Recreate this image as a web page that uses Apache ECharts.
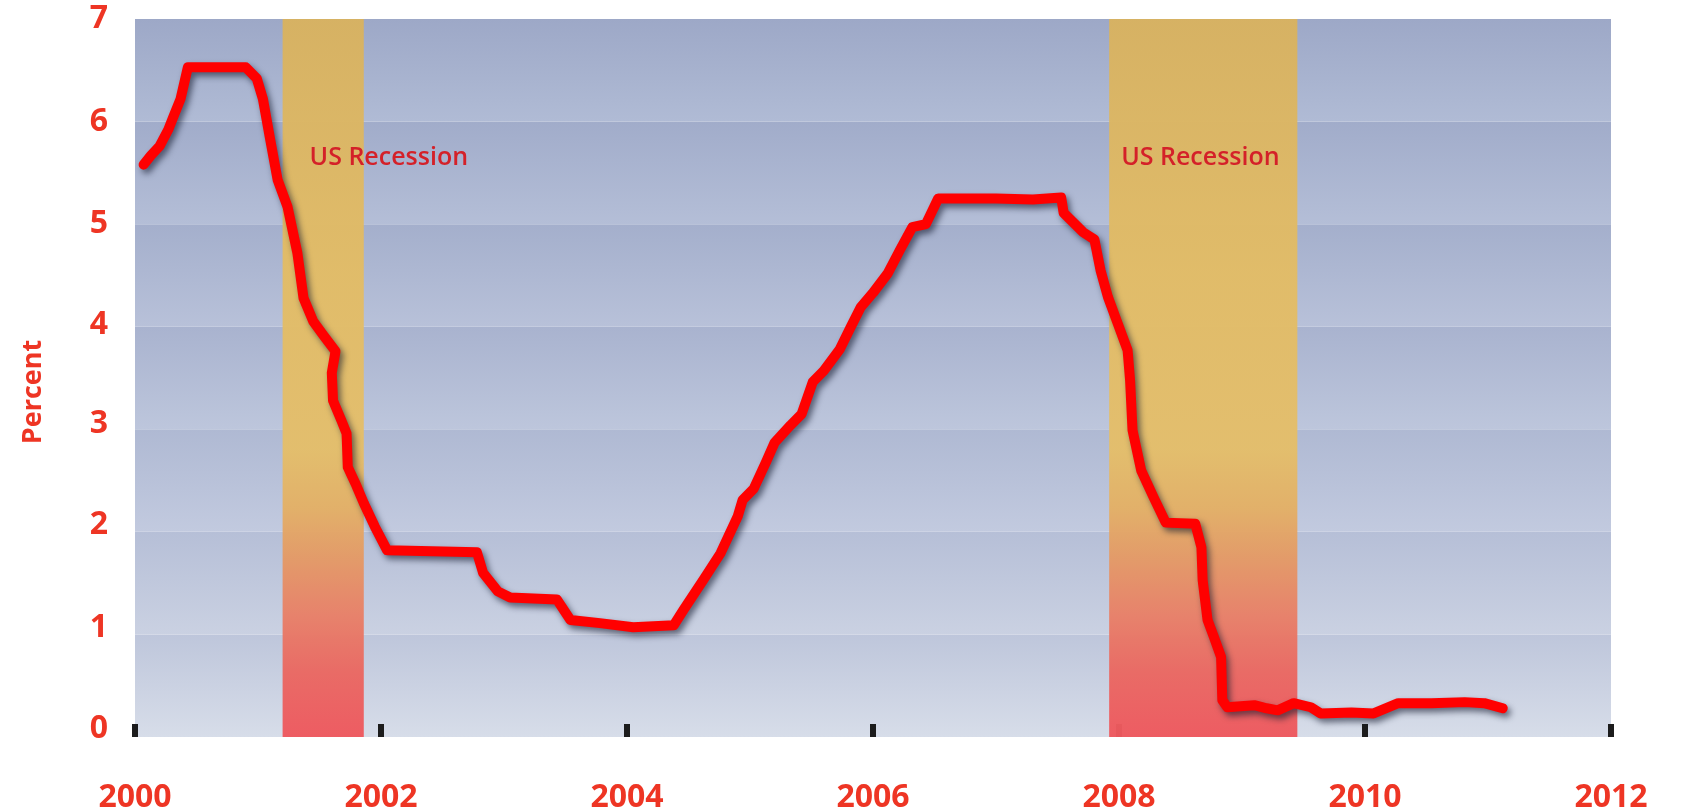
<!DOCTYPE html>
<html>
<head>
<meta charset="utf-8">
<script src="https://cdn.jsdelivr.net/npm/echarts@6/dist/echarts.min.js"></script>
<style>
html,body{margin:0;padding:0;background:#fff;}
#chart{width:1686px;height:810px;}
</style>
</head>
<body>
<div id="chart"></div>
<script>
// ---- data ----
const years = [2000.07,2000.13,2000.20,2000.27,2000.31,2000.37,2000.43,2000.90,2000.99,2001.04,2001.10,2001.16,2001.24,2001.32,2001.37,2001.45,2001.53,2001.63,2001.60,2001.61,2001.68,2001.72,2001.73,2001.80,2001.86,2001.95,2002.05,2002.78,2002.83,2002.95,2003.05,2003.43,2003.54,2003.78,2004.05,2004.38,2004.46,2004.62,2004.76,2004.90,2004.94,2005.03,2005.13,2005.20,2005.33,2005.42,2005.51,2005.60,2005.73,2005.82,2005.90,2006.00,2006.12,2006.22,2006.32,2006.43,2006.53,2007.00,2007.30,2007.53,2007.55,2007.71,2007.80,2007.85,2007.91,2007.99,2008.07,2008.09,2008.11,2008.18,2008.28,2008.38,2008.62,2008.67,2008.68,2008.72,2008.77,2008.83,2008.84,2008.88,2009.10,2009.20,2009.29,2009.42,2009.56,2009.64,2009.89,2010.07,2010.27,2010.54,2010.81,2010.97,2011.12];
const rates = [5.58,5.67,5.76,5.92,6.04,6.22,6.53,6.53,6.42,6.22,5.82,5.43,5.17,4.72,4.28,4.05,3.92,3.76,3.55,3.28,3.08,2.96,2.63,2.45,2.28,2.05,1.82,1.80,1.60,1.42,1.36,1.34,1.14,1.11,1.07,1.09,1.24,1.53,1.79,2.15,2.31,2.42,2.68,2.87,3.04,3.15,3.46,3.57,3.78,4.00,4.19,4.33,4.52,4.75,4.97,5.00,5.25,5.25,5.24,5.26,5.11,4.92,4.85,4.55,4.29,4.03,3.77,3.48,2.99,2.60,2.34,2.09,2.08,1.85,1.53,1.14,0.98,0.78,0.36,0.29,0.31,0.28,0.26,0.33,0.29,0.23,0.24,0.23,0.33,0.33,0.34,0.33,0.28];
const recessionStart = [2001.20, 2007.92];
const recessionEnd = [2001.86, 2009.45];
const recessionLabel = ['US Recession', 'US Recession'];
const xTickValues = [2000, 2002, 2004, 2006, 2008, 2010, 2012];
const yTickValues = [0, 1, 2, 3, 4, 5, 6, 7];

// ---- styling ----
const RED = '#ee3524';
const FONT = '"Open Sans", "Noto Sans", sans-serif';
// small upward nudges of the y labels seen in the reference (px)
const yLabelLift = {0: 8, 1: 7, 2: 7, 3: 5, 4: 2};

function vgrad(stops) {
  return new echarts.graphic.LinearGradient(0, 0, 0, 1,
    stops.map(s => ({offset: s[0], color: s[1]})));
}
// bands, bottom (0-1) to top (6-7): darker at top of each band, lighter at bottom
const bandColors = [
  ['#bec6db', '#d7dde9'],
  ['#b6bfd7', '#cad1e2'],
  ['#afb9d3', '#c2cadf'],
  ['#a9b3cf', '#bdc6dc'],
  ['#a4afcc', '#b8c1d9'],
  ['#a1acca', '#b4bed7'],
  ['#9da8c7', '#b0bbd5']
].map(c => vgrad([[0, c[0]], [1, c[1]]]));

const recessionFill = vgrad([
  [0, 'rgba(216,178,96,0.97)'],
  [0.35, 'rgba(226,188,102,0.97)'],
  [0.6, 'rgba(228,190,106,0.97)'],
  [0.68, 'rgba(227,176,102,0.97)'],
  [0.75, 'rgba(228,154,102,0.97)'],
  [0.83, 'rgba(232,128,104,0.97)'],
  [0.91, 'rgba(234,104,98,0.97)'],
  [1, 'rgba(238,88,94,0.97)']
]);

const labelOffsets = [[27, 139], [12, 139]];

const yRich = {};
yTickValues.forEach(v => {
  yRich['v' + v] = {color: RED, fontSize: 32, fontWeight: 'bold', fontFamily: FONT,
    padding: [0, 0, 2 * (yLabelLift[v] || 0), 0]};
});

const chart = echarts.init(document.getElementById('chart'));
chart.setOption({
  animation: false,
  backgroundColor: '#ffffff',
  grid: {left: 135, right: 75, top: 19, bottom: 73, outerBoundsMode: 'none', containLabel: false},
  xAxis: {
    type: 'value', min: 2000, max: 2012, interval: 2,
    axisLine: {show: false},
    splitLine: {show: false},
    axisTick: {show: true, inside: true, length: 13, lineStyle: {color: '#1c1c1c', width: 6}},
    axisLabel: {
      margin: 45, color: RED, fontSize: 32, fontWeight: 'bold', fontFamily: FONT,
      formatter: v => String(v)
    }
  },
  yAxis: {
    type: 'value', min: 0, max: 7, interval: 1,
    name: 'Percent', nameLocation: 'middle', nameGap: 88, nameRotate: 90,
    nameMoveOverlap: false,
    nameTextStyle: {color: RED, fontSize: 27, fontWeight: 'bold', fontFamily: FONT, padding: [0, 28, 0, 0]},
    axisLine: {show: false},
    axisTick: {show: false},
    splitLine: {show: false},
    splitArea: {show: true, areaStyle: {color: bandColors}},
    axisLabel: {
      margin: 27,
      formatter: v => '{v' + v + '|' + v + '}',
      rich: yRich
    }
  },
  series: [
    {
      type: 'line', data: [], z: 1, silent: true,
      markArea: {
        silent: true,
        itemStyle: {color: recessionFill},
        label: {
          show: true, color: '#d42129', fontSize: 25, fontFamily: FONT, fontWeight: 600,
          align: 'left', verticalAlign: 'middle'
        },
        data: recessionStart.map((s, i) => [
          {xAxis: s, name: recessionLabel[i], label: {position: labelOffsets[i]}},
          {xAxis: recessionEnd[i]}
        ])
      }
    },
    {
      type: 'line', z: 5,
      data: years.map((y, i) => [y, rates[i]]),
      showSymbol: false, symbol: 'none',
      lineStyle: {
        color: '#ff0000', width: 10, cap: 'round', join: 'round',
        shadowColor: 'rgba(20,25,45,0.6)', shadowBlur: 6, shadowOffsetX: 3, shadowOffsetY: 4
      }
    }
  ]
});
</script>
</body>
</html>
